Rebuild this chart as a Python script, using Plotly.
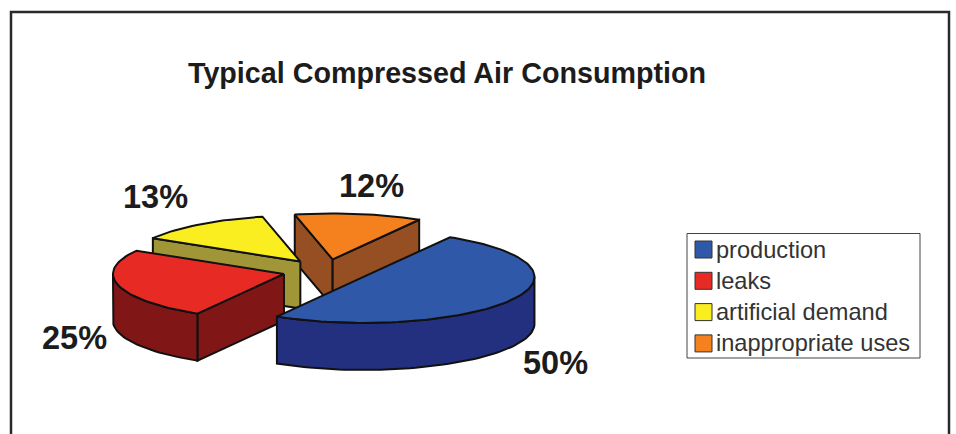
import math
import plotly.graph_objects as go

# Pie contents
categories = ["production", "leaks", "artificial demand", "inappropriate uses"]
shares = [50, 25, 13, 12]
share_labels = ["50%", "25%", "13%", "12%"]
title_text = "Typical Compressed Air Consumption"

top_colors = ["#3058a8", "#e82a24", "#faee20", "#f5801e"]
side_colors = ["#23307f", "#801616", "#a09637", "#964e23"]

# Projection of the tilted pie onto the canvas, in pixels
CX, CY = 326.0, 271.0
RX, RY = 171.0, 46.0
DEPTH = 47.0
EXPLODE = 0.254
START_DEG = 59.6
LABEL_POS = [(555, 363), (74, 338), (155, 197), (371, 186)]

FONT = "Liberation Sans, Arial, sans-serif"
EDGE = dict(color="#111111", width=2)


def rim(cx, cy, deg):
    a = math.radians(deg)
    return cx + RX * math.cos(a), cy - RY * math.sin(a)


def arc_points(cx, cy, start, end, dy=0.0):
    n = max(2, int(abs(end - start) / 2) + 1)
    pts = [rim(cx, cy, start + (end - start) * i / (n - 1)) for i in range(n)]
    return [(x, y + dy) for x, y in pts]


def add_poly(fig, pts, fill):
    xs = [p[0] for p in pts] + [pts[0][0]]
    ys = [p[1] for p in pts] + [pts[0][1]]
    fig.add_trace(go.Scatter(x=xs, y=ys, mode="lines", fill="toself", fillcolor=fill,
                             line=EDGE, hoverinfo="skip", showlegend=False))


def radial_face(cx, cy, deg):
    px, py = rim(cx, cy, deg)
    return [(cx, cy), (px, py), (px, py + DEPTH), (cx, cy + DEPTH)]


# Resolve each slice's clockwise angular span from its share
total = sum(shares)
slices = []
angle = START_DEG
for i, share in enumerate(shares):
    sweep = 360.0 * share / total
    start, end = angle, angle - sweep
    mid = math.radians((start + end) / 2)
    cx = CX + EXPLODE * RX * math.cos(mid)
    cy = CY - EXPLODE * RY * math.sin(mid)
    slices.append((i, start, end, cx, cy))
    angle = end

fig = go.Figure()

# Paint the slices from the back of the pie to the front
for i, start, end, cx, cy in sorted(slices, key=lambda s: s[4]):
    faces = []
    if math.cos(math.radians(start)) < 0:
        faces.append(radial_face(cx, cy, start))
    if math.cos(math.radians(end)) > 0:
        faces.append(radial_face(cx, cy, end))

    # Outer wall: only the part of the rim that faces the viewer
    spans = []
    for lo, hi in ((-180, 0), (-540, -360), (180, 360)):
        a, b = max(end, lo), min(start, hi)
        if b > a:
            spans.append((b, a))
    for hi, lo in spans:
        top = arc_points(cx, cy, hi, lo)
        bottom = arc_points(cx, cy, lo, hi, DEPTH)
        faces.append(top + bottom)

    for face in sorted(faces, key=lambda f: sum(p[1] for p in f) / len(f)):
        add_poly(fig, face, side_colors[i])

    add_poly(fig, [(cx, cy)] + arc_points(cx, cy, start, end), top_colors[i])

shapes = [
    # Outer frame, open at the bottom of the page
    dict(type="path", path="M 11 434 L 11 12 L 949 12 L 949 434",
         line=dict(color="#2a2a2a", width=2.5), layer="below"),
    # Legend box
    dict(type="rect", x0=687, y0=233.5, x1=920, y1=358,
         line=dict(color="#444444", width=1), fillcolor="white"),
]
annotations = [
    dict(x=447, y=73, text=f"<b>{title_text}</b>", showarrow=False,
         font=dict(family=FONT, size=28.7, color="#1c1c1c")),
]
for text, (x, y) in zip(share_labels, LABEL_POS):
    annotations.append(dict(x=x, y=y, text=f"<b>{text}</b>", showarrow=False,
                            font=dict(family=FONT, size=32.5, color="#1c1c1c")))

# Legend rows: swatch plus label
for row, (name, color) in enumerate(zip(categories, top_colors)):
    y = 249.5 + row * 31.3
    shapes.append(dict(type="rect", x0=695, x1=712, y0=y - 8.5, y1=y + 8.5,
                       line=dict(color="#333333", width=1), fillcolor=color))
    annotations.append(dict(x=714, y=y, text=name, showarrow=False, xanchor="left",
                            font=dict(family=FONT, size=23.6, color="#333333")))

fig.update_layout(
    width=956, height=434, margin=dict(l=0, r=0, t=0, b=0),
    paper_bgcolor="white", plot_bgcolor="white", showlegend=False,
    xaxis=dict(range=[0, 956], visible=False, fixedrange=True),
    yaxis=dict(range=[434, 0], visible=False, fixedrange=True),
    shapes=shapes, annotations=annotations,
)

fig.write_html("out.html", config=dict(displayModeBar=False))
